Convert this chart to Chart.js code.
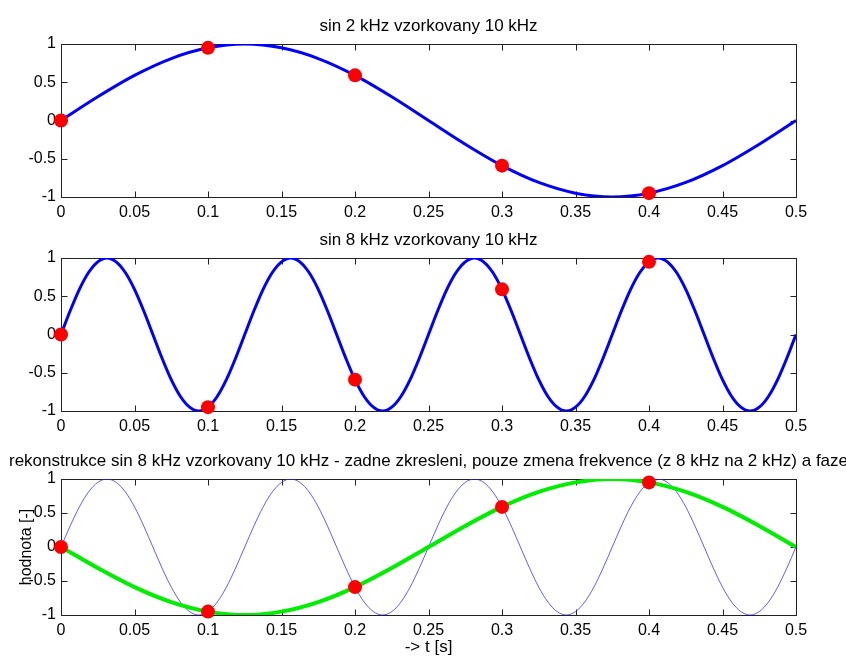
<!DOCTYPE html>
<html lang="cs">
<head>
<meta charset="utf-8">
<script src="https://cdn.jsdelivr.net/npm/chart.js"></script>
<style>
    body { margin: 0; background: #fff; }
    canvas { position: absolute; left: 0; }
</style>
</head>
<body>
<canvas id="c1" width="846" height="222" style="top:0"></canvas>
<canvas id="c2" width="846" height="224" style="top:222px"></canvas>
<canvas id="c3" width="846" height="213" style="top:446px"></canvas>

<script>
    // jemna casova osa (pro 8 kHz) a hruba (pro 2 kHz)
    const tFine = [0, 0.00625, 0.0125, 0.01875, 0.025, 0.03125, 0.0375, 0.04375, 0.05, 0.05625,
        0.0625, 0.06875, 0.075, 0.08125, 0.0875, 0.09375, 0.1, 0.10625, 0.1125, 0.11875,
        0.125, 0.13125, 0.1375, 0.14375, 0.15, 0.15625, 0.1625, 0.16875, 0.175, 0.18125,
        0.1875, 0.19375, 0.2, 0.20625, 0.2125, 0.21875, 0.225, 0.23125, 0.2375, 0.24375,
        0.25, 0.25625, 0.2625, 0.26875, 0.275, 0.28125, 0.2875, 0.29375, 0.3, 0.30625,
        0.3125, 0.31875, 0.325, 0.33125, 0.3375, 0.34375, 0.35, 0.35625, 0.3625, 0.36875,
        0.375, 0.38125, 0.3875, 0.39375, 0.4, 0.40625, 0.4125, 0.41875, 0.425, 0.43125,
        0.4375, 0.44375, 0.45, 0.45625, 0.4625, 0.46875, 0.475, 0.48125, 0.4875, 0.49375, 0.5];
    const sin8k = [0, 0.31, 0.59, 0.81, 0.95, 1, 0.95, 0.81, 0.59, 0.31,
        0, -0.31, -0.59, -0.81, -0.95, -1, -0.95, -0.81, -0.59, -0.31,
        0, 0.31, 0.59, 0.81, 0.95, 1, 0.95, 0.81, 0.59, 0.31,
        0, -0.31, -0.59, -0.81, -0.95, -1, -0.95, -0.81, -0.59, -0.31,
        0, 0.31, 0.59, 0.81, 0.95, 1, 0.95, 0.81, 0.59, 0.31,
        0, -0.31, -0.59, -0.81, -0.95, -1, -0.95, -0.81, -0.59, -0.31,
        0, 0.31, 0.59, 0.81, 0.95, 1, 0.95, 0.81, 0.59, 0.31,
        0, -0.31, -0.59, -0.81, -0.95, -1, -0.95, -0.81, -0.59, -0.31, 0];

    const tCoarse = [0, 0.025, 0.05, 0.075, 0.1, 0.125, 0.15, 0.175, 0.2, 0.225, 0.25,
        0.275, 0.3, 0.325, 0.35, 0.375, 0.4, 0.425, 0.45, 0.475, 0.5];
    const sin2k = [0, 0.31, 0.59, 0.81, 0.95, 1, 0.95, 0.81, 0.59, 0.31, 0,
        -0.31, -0.59, -0.81, -0.95, -1, -0.95, -0.81, -0.59, -0.31, 0];
    const recon2k = [0, -0.31, -0.59, -0.81, -0.95, -1, -0.95, -0.81, -0.59, -0.31, 0,
        0.31, 0.59, 0.81, 0.95, 1, 0.95, 0.81, 0.59, 0.31, 0];

    // vzorky 10 kHz
    const tSamples = [0, 0.1, 0.2, 0.3, 0.4];
    const samples2k = [0, 0.95, 0.59, -0.59, -0.95];
    const samples8k = [0, -0.95, -0.59, 0.59, 0.95];

    const xTickStep = 0.05;
    const yTickStep = 0.5;

    const FONT = "'Liberation Sans', Arial, sans-serif";

    function pts(xs, ys) {
        return xs.map((x, i) => ({ x: x, y: ys[i] }));
    }

    // popisky bez koncovych nul (0.1, 1, -0.5)
    function fmt(v) {
        return String(Math.round(v * 100) / 100);
    }

    function lineSet(xs, ys, color, width, order) {
        return {
            type: 'line', data: pts(xs, ys), borderColor: color, borderWidth: width,
            pointRadius: 0, cubicInterpolationMode: 'monotone', fill: false, order: order
        };
    }

    function sampleSet(ys) {
        return {
            type: 'scatter', data: pts(tSamples, ys), backgroundColor: '#ff0000',
            borderWidth: 0, pointRadius: 7, clip: false, order: 0
        };
    }

    // ramecek, vnitrni tiky a nadpis (styl MATLAB)
    const framePlugin = {
        id: 'frame',
        beforeDatasetsDraw(chart, args, opts) {
            const { ctx, chartArea: a, scales: { x, y } } = chart;
            const L = Math.round(a.left) + 0.5, R = Math.round(a.right) + 0.5;
            const T = Math.round(a.top) + 0.5, B = Math.round(a.bottom) + 0.5;
            ctx.save();
            ctx.strokeStyle = '#222';
            ctx.lineWidth = 1;
            ctx.strokeRect(L, T, R - L, B - T);
            ctx.beginPath();
            x.ticks.forEach(t => {
                const px = Math.round(x.getPixelForValue(t.value)) + 0.5;
                ctx.moveTo(px, B); ctx.lineTo(px, B - 6);
                ctx.moveTo(px, T); ctx.lineTo(px, T + 6);
            });
            y.ticks.forEach(t => {
                const py = Math.round(y.getPixelForValue(t.value)) + 0.5;
                ctx.moveTo(L, py); ctx.lineTo(L + 6, py);
                ctx.moveTo(R, py); ctx.lineTo(R - 6, py);
            });
            ctx.stroke();
            ctx.fillStyle = '#000';
            ctx.font = opts.size + 'px ' + FONT;
            ctx.textAlign = 'center';
            ctx.textBaseline = 'alphabetic';
            ctx.fillText(opts.text, (a.left + a.right) / 2, a.top - 13);
            ctx.restore();
        }
    };

    function makeChart(id, padTop, xHeight, title, titleSize, datasets, withLabels) {
        const ctx = document.getElementById(id).getContext('2d');
        return new Chart(ctx, {
            data: { datasets: datasets },
            options: {
                responsive: false,
                animation: false,
                devicePixelRatio: 1,
                layout: { padding: { top: padTop, right: 50, bottom: 0, left: 0 } },
                plugins: {
                    legend: { display: false },
                    tooltip: { enabled: false },
                    frame: { text: title, size: titleSize }
                },
                scales: {
                    x: {
                        type: 'linear', min: 0, max: 0.5,
                        grid: { display: false, drawTicks: false },
                        border: { display: false },
                        ticks: { stepSize: xTickStep, autoSkip: false, maxRotation: 0, padding: 6,
                            color: '#000', font: { family: FONT, size: 16 }, callback: fmt },
                        title: { display: withLabels, text: '-> t [s]', color: '#000',
                            font: { family: FONT, size: 17 }, padding: { top: 0, bottom: 1 } },
                        afterFit(scale) { scale.height = xHeight; }
                    },
                    y: {
                        type: 'linear', min: -1, max: 1,
                        grid: { display: false, drawTicks: false },
                        border: { display: false },
                        ticks: { stepSize: yTickStep, padding: 5,
                            color: '#000', font: { family: FONT, size: 16 }, callback: fmt },
                        title: { display: withLabels, text: 'hodnota [-]', color: '#000',
                            font: { family: FONT, size: 16 }, padding: { top: 17, bottom: 0 } },
                        afterFit(scale) { scale.width = 61; }
                    }
                }
            },
            plugins: [framePlugin]
        });
    }

    makeChart('c1', 44, 25, 'sin 2 kHz vzorkovany 10 kHz', 17, [
        sampleSet(samples2k),
        lineSet(tCoarse, sin2k, '#0000ff', 3, 1)
    ], false);

    makeChart('c2', 36, 35, 'sin 8 kHz vzorkovany 10 kHz', 17, [
        sampleSet(samples8k),
        lineSet(tFine, sin8k, '#0000ff', 3, 1)
    ], false);

    makeChart('c3', 33, 44,
        'rekonstrukce sin 8 kHz vzorkovany 10 kHz - zadne zkresleni, pouze zmena frekvence (z 8 kHz na 2 kHz) a faze', 17, [
        sampleSet(samples8k),
        lineSet(tCoarse, recon2k, '#00ee00', 4, 1),
        lineSet(tFine, sin8k, 'rgba(40, 40, 255, 0.75)', 1, 2)
    ], true);
</script>
</body>
</html>
